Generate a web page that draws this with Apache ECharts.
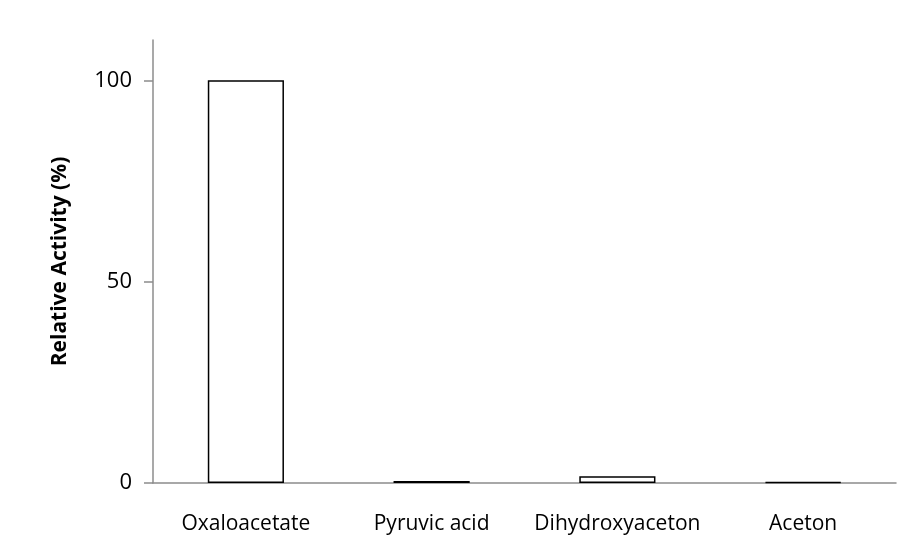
<!DOCTYPE html>
<html><head><meta charset="utf-8">
<script src="https://cdn.jsdelivr.net/npm/echarts@6/dist/echarts.min.js"></script>
<style>html,body{margin:0;padding:0;background:#fff}#c{width:923px;height:560px}</style>
</head><body><div id="c"></div>
<script>
var categories = ["Oxaloacetate", "Pyruvic acid", "Dihydroxyaceton", "Aceton"];
var activity = [100, 0.5, 1.7, 0.2];
var yTicks = [0, 50, 100];

var chart = echarts.init(document.getElementById('c'));
var font = '"Open Sans", sans-serif';
chart.setOption({
  animation: false,
  grid: {left: 153, right: 27, top: 40, bottom: 77},
  xAxis: {
    type: 'category', data: categories,
    axisLine: {lineStyle: {color: '#8c8c8c', width: 1.5}},
    axisTick: {length: 9, lineStyle: {color: '#8c8c8c', width: 1.5}},
    axisLabel: {color: '#000', fontSize: 21, fontFamily: font, margin: 31, interval: 0, hideOverlap: false}
  },
  yAxis: {
    type: 'value', min: 0, max: 110, interval: 50,
    name: 'Relative Activity (%)', nameLocation: 'middle', nameGap: 82,
    nameTextStyle: {color: '#000', fontSize: 21, fontWeight: 'bold', fontFamily: font},
    splitLine: {show: false},
    axisLine: {show: true, lineStyle: {color: '#8c8c8c', width: 1.5}},
    axisTick: {show: true, length: 9, customValues: yTicks, lineStyle: {color: '#8c8c8c', width: 1.5}},
    axisLabel: {color: '#000', fontSize: 22, fontFamily: font, margin: 21, customValues: yTicks}
  },
  series: [{
    type: 'bar', data: activity, barWidth: '41%',
    itemStyle: {color: '#fff', borderColor: '#000', borderWidth: 1.5}
  }]
});
</script></body></html>
